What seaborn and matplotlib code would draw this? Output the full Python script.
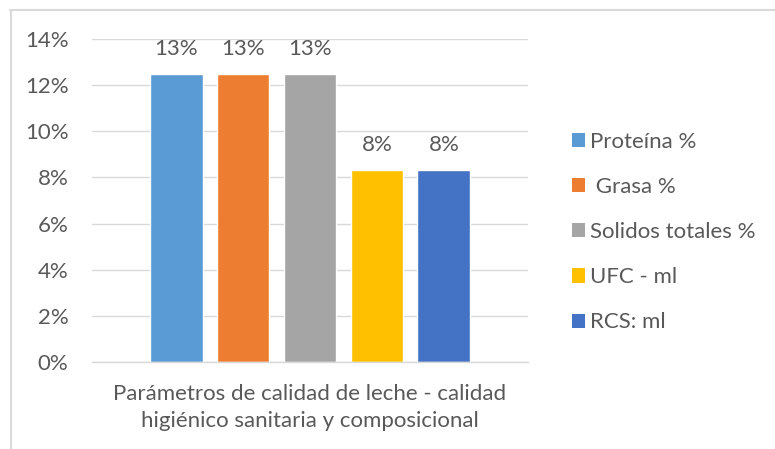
import matplotlib
matplotlib.use("Agg")
import matplotlib.pyplot as plt
import seaborn as sns
import pandas as pd
from matplotlib.lines import Line2D
from matplotlib.patches import Patch

categoria = ["Parámetros de calidad de leche - calidad\nhigiénico sanitaria y composicional"]
series = ["Proteína %", " Grasa %", "Solidos totales %", "UFC - ml", "RCS: ml"]
valores = [0.125, 0.125, 0.125, 0.0833, 0.0833]
etiquetas = ["13%", "13%", "13%", "8%", "8%"]
colores = ["#5B9BD5", "#ED7D31", "#A5A5A5", "#FFC000", "#4472C4"]
yticks = [0, 0.02, 0.04, 0.06, 0.08, 0.10, 0.12, 0.14]

df = pd.DataFrame({"cat": categoria * len(series), "serie": series, "val": valores})

sns.set_theme(style="white")
plt.rcParams["font.family"] = ["Lato", "DejaVu Sans"]
txt = "#595959"
grid = "#D9D9D9"
fs = 16

fig = plt.figure(figsize=(7.75, 4.49), dpi=100)
ax = fig.add_axes([92/775, 1-362/449, (528-92)/775, (362-39)/449])

sns.barplot(data=df, x="cat", y="val", hue="serie", palette=colores,
            width=0.768, gap=0.21, ax=ax, legend=False, saturation=1)

for cont, lab in zip(ax.containers, etiquetas):
    ax.bar_label(cont, labels=[lab], padding=10.5, fontsize=fs, color=txt)

ax.set_ylim(0, 0.14)
ax.set_xlim(-0.5, 0.5)
ax.set_yticks(yticks)
ax.set_yticklabels([f"{int(round(v*100))}%" for v in yticks], fontsize=fs, color=txt)
ax.tick_params(axis="y", length=0, pad=17)
ax.tick_params(axis="x", length=0, pad=16, labelsize=fs, labelcolor=txt)
for t in ax.get_xticklabels():
    t.set_linespacing(1.45)
ax.set_xlabel("")
ax.set_ylabel("")
ax.yaxis.grid(True, color=grid, linewidth=1)
ax.set_axisbelow(True)
for s in ["left", "right", "top"]:
    ax.spines[s].set_visible(False)
ax.spines["bottom"].set_color(grid)
ax.spines["bottom"].set_linewidth(1)

handles = [Patch(facecolor=c, edgecolor="none") for c in colores]
leg = fig.legend(handles, series, loc="upper left", bbox_to_anchor=(572/775, 1-132/449),
                 frameon=False, fontsize=fs, labelcolor=txt, handlelength=0.6,
                 handleheight=0.6, handletextpad=0.2, labelspacing=1.13, borderpad=0,
                 borderaxespad=0)

fig.add_artist(Line2D([10/775, 1], [1-9.5/449, 1-9.5/449], color=grid, linewidth=1.5,
                      transform=fig.transFigure))
fig.add_artist(Line2D([10.5/775, 10.5/775], [0, 1-9.5/449], color=grid, linewidth=1.5,
                      transform=fig.transFigure))

fig.savefig("out.png", dpi=100)
